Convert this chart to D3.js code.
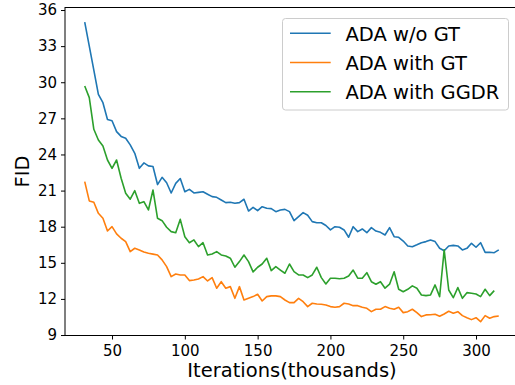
<!DOCTYPE html>
<html>
<head>
<meta charset="utf-8">
<script src="https://cdn.jsdelivr.net/npm/d3@7"></script>
<style>
body { margin: 0; background: #fff; }
svg { display: block; font-family: "DejaVu Sans", sans-serif; }
</style>
</head>
<body>
<svg width="515" height="385"></svg>
<script>
// iterations in thousands (snapshot every 3.125k)
const iterations = [
    31.25, 34.375, 37.5, 40.625, 43.75, 46.875, 50, 53.125, 56.25, 59.375,
    62.5, 65.625, 68.75, 71.875, 75, 78.125, 81.25, 84.375, 87.5, 90.625,
    93.75, 96.875, 100, 103.125, 106.25, 109.375, 112.5, 115.625, 118.75, 121.875,
    125, 128.125, 131.25, 134.375, 137.5, 140.625, 143.75, 146.875, 150, 153.125,
    156.25, 159.375, 162.5, 165.625, 168.75, 171.875, 175, 178.125, 181.25, 184.375,
    187.5, 190.625, 193.75, 196.875, 200, 203.125, 206.25, 209.375, 212.5, 215.625,
    218.75, 221.875, 225, 228.125, 231.25, 234.375, 237.5, 240.625, 243.75, 246.875,
    250, 253.125, 256.25, 259.375, 262.5, 265.625, 268.75, 271.875, 275, 278.125,
    281.25, 284.375, 287.5, 290.625, 293.75, 296.875, 300, 303.125, 306.25, 309.375,
    312.5, 315.625
];

const fidNoGT = [
    35.0, 33.0, 31.0, 29.0, 28.3, 26.9, 26.8, 25.9, 25.5, 25.35,
    24.8, 24.1, 22.85, 23.3, 23.05, 23.0, 21.5, 22.1, 21.65, 20.8,
    21.6, 22.0, 20.9, 21.1, 20.8, 20.85, 20.9, 20.7, 20.5, 20.44,
    20.22, 20.0, 20.03, 19.95, 20.0, 20.28, 19.3, 19.6, 19.33, 19.66,
    19.53, 19.5, 19.25, 19.39, 19.44, 19.25, 18.5, 18.83, 19.17, 18.95,
    18.42, 18.33, 18.33, 18.1, 17.73, 18.0, 17.95, 17.73, 17.12, 18.0,
    17.59, 17.81, 17.5, 17.92, 17.64, 17.53, 17.31, 17.92, 17.17, 17.12,
    16.81, 16.4, 16.34, 16.5, 16.67, 16.76, 16.9, 16.76, 16.21, 16.0,
    16.4, 16.45, 16.4, 16.07, 16.2, 16.62, 16.29, 16.67, 15.87, 15.87,
    15.84, 16.07
];

const fidGT = [
    21.74, 20.14, 20.03, 19.11, 18.7, 17.64, 18.0, 17.4, 17.04, 16.76,
    15.93, 16.21, 16.07, 15.9, 15.79, 15.72, 15.65, 15.24, 14.68, 13.85,
    14.07, 13.99, 13.99, 13.52, 13.57, 13.66, 13.85, 13.49, 13.77, 12.89,
    13.43, 12.89, 13.02, 12.05, 13.02, 11.91, 12.05, 12.19, 12.39, 11.83,
    12.19, 12.25, 12.25,
    12.19, 11.91, 11.69, 11.69, 12.05, 11.77, 11.36, 11.64, 11.58, 11.55,
    11.5, 11.36, 11.31, 11.36, 11.64, 11.58, 11.44, 11.44, 11.31, 11.22,
    10.94, 11.14, 11.14, 11.36, 11.22, 11.14, 11.31, 10.86, 10.94, 11.14,
    10.86, 10.53, 10.67, 10.69, 10.72, 10.56, 10.75, 10.97, 10.81, 10.94,
    10.61, 10.44, 10.28, 10.44, 10.11, 10.61, 10.39, 10.53, 10.58
];

const fidGGDR = [
    29.69, 28.72, 26.09, 25.2, 24.7, 23.54, 22.85, 23.54, 22.02, 20.78,
    20.28, 20.99, 19.94, 20.08, 19.39, 21.05, 18.7, 18.5, 17.95, 17.59,
    17.5, 18.61, 17.17, 16.67, 16.9, 16.34, 16.67, 15.65, 15.73, 15.93,
    15.65, 15.57, 15.38, 14.63, 15.1, 15.65, 15.1, 14.24, 14.63, 14.9,
    15.38, 14.35, 14.68, 14.4, 14.13, 14.9,
    14.26, 13.99, 13.99, 13.77, 13.99, 14.63, 13.77, 13.24, 13.72, 13.72,
    13.68, 13.72, 13.9, 14.4, 13.72, 13.72, 14.18, 13.43, 13.22, 13.43,
    12.89, 13.22, 14.26, 12.8, 12.6, 12.8, 13.08, 12.89, 12.33, 12.27,
    12.33, 13.16, 12.19, 16.07, 12.74, 12.1, 12.94, 12.05, 12.52, 12.47,
    12.41, 12.19, 12.8, 12.27, 12.69
];

const seriesNames = ['ADA w/o GT', 'ADA with GT', 'ADA with GGDR'];
const seriesColors = ['#1f77b4', '#ff7f0e', '#2ca02c'];
const xTicks = [50, 100, 150, 200, 250, 300];
const yTicks = [9, 12, 15, 18, 21, 24, 27, 30, 33, 36];

const svg = d3.select('svg');
const width = +svg.attr('width');
const height = +svg.attr('height');

const render = () => {
    const margin = { top: 7.5, right: -5, bottom: 49.5, left: 65 };
    const innerWidth = width - margin.left - margin.right;
    const innerHeight = height - margin.top - margin.bottom;

    const xScale = d3.scaleLinear()
        .domain([17.7, 330.2])
        .range([0, innerWidth]);

    const yScale = d3.scaleLinear()
        .domain([8.96, 36.21])
        .range([innerHeight, 0]);

    const g = svg.append('g')
        .attr('transform', `translate(${margin.left}, ${margin.top})`);

    const series = [fidNoGT, fidGT, fidGGDR].map((vals, i) => ({
        name: seriesNames[i],
        color: seriesColors[i],
        points: vals.map((v, j) => ({ x: iterations[j], y: v }))
    }));

    const line = d3.line()
        .x(d => xScale(d.x))
        .y(d => yScale(d.y));

    g.selectAll('path.series').data(series)
        .enter()
        .append('path')
        .attr('class', 'series')
        .attr('d', d => line(d.points))
        .attr('fill', 'none')
        .attr('stroke', d => d.color)
        .attr('stroke-width', 1.6)
        .attr('stroke-linejoin', 'round');

    // frame
    g.append('rect')
        .attr('width', innerWidth)
        .attr('height', innerHeight)
        .attr('fill', 'none')
        .attr('stroke', '#000')
        .attr('stroke-width', 1);

    const xAxis = d3.axisBottom(xScale)
        .tickValues(xTicks)
        .tickSize(4)
        .tickPadding(5.5);
    const yAxis = d3.axisLeft(yScale)
        .tickValues(yTicks)
        .tickSize(4)
        .tickPadding(4);

    const xg = g.append('g').attr('transform', `translate(0, ${innerHeight})`).call(xAxis);
    const yg = g.append('g').call(yAxis);
    [xg, yg].forEach(a => {
        a.select('.domain').remove();
        a.selectAll('line').attr('stroke', '#000');
        a.selectAll('text')
            .attr('fill', '#000')
            .style('font-size', '15px')
            .style('font-family', '"DejaVu Sans", sans-serif');
    });

    svg.append('text')
        .attr('x', 292)
        .attr('y', 377)
        .attr('text-anchor', 'middle')
        .style('font-size', '19.5px')
        .text('Iterations(thousands)');

    svg.append('text')
        .attr('transform', `translate(29, ${margin.top + innerHeight / 2}) rotate(-90)`)
        .attr('text-anchor', 'middle')
        .style('font-size', '19.5px')
        .text('FID');

    // legend
    const legend = svg.append('g');
    legend.append('rect')
        .attr('x', 282.5)
        .attr('y', 18.5)
        .attr('width', 226)
        .attr('height', 91.5)
        .attr('rx', 3)
        .attr('fill', '#fff')
        .attr('fill-opacity', 0.8)
        .attr('stroke', '#cccccc')
        .attr('stroke-width', 1);

    const items = legend.selectAll('g.item').data(series)
        .enter()
        .append('g')
        .attr('class', 'item')
        .attr('transform', (d, i) => `translate(0, ${33.3 + i * 29.2})`);
    items.append('line')
        .attr('x1', 290).attr('x2', 330.7)
        .attr('stroke', d => d.color)
        .attr('stroke-width', 1.6);
    items.append('text')
        .attr('x', 345.5)
        .attr('y', 7.3)
        .style('font-size', '19.5px')
        .text(d => d.name);
};

render();
</script>
</body>
</html>
